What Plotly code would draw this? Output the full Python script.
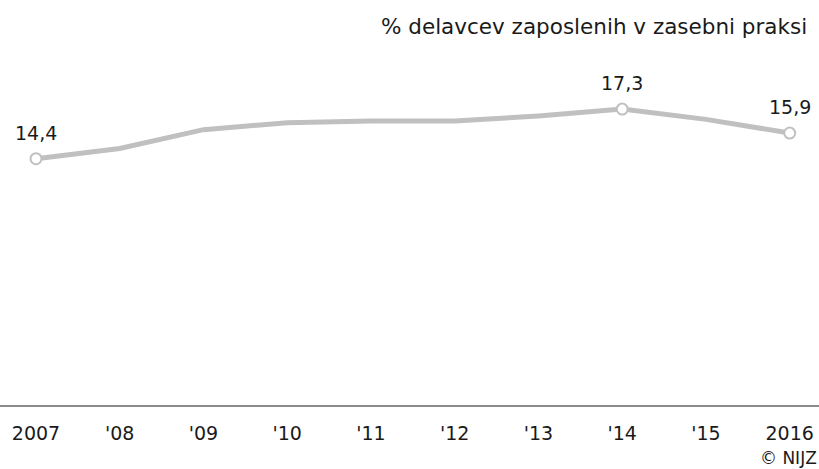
import plotly.graph_objects as go

years = [2007, 2008, 2009, 2010, 2011, 2012, 2013, 2014, 2015, 2016]
values = [14.4, 15.0, 16.1, 16.5, 16.6, 16.6, 16.9, 17.3, 16.7, 15.9]
tick_labels = ["2007", "'08", "'09", "'10", "'11", "'12", "'13", "'14", "'15", "2016"]
labeled_years = [2007, 2014, 2016]
title_text = "% delavcev zaposlenih v zasebni praksi"
credit_text = "© NIJZ"

FONT = "DejaVu Sans"
LINE_COLOR = "#c0c0c0"
TEXT_COLOR = "#1a1a1a"

lab_vals = [values[years.index(y)] for y in labeled_years]

fig = go.Figure()
fig.add_trace(go.Scatter(
    x=years, y=values, mode="lines",
    line=dict(color=LINE_COLOR, width=5),
    hoverinfo="skip", showlegend=False,
))
fig.add_trace(go.Scatter(
    x=labeled_years, y=lab_vals, mode="markers",
    marker=dict(size=11, color="white", line=dict(color=LINE_COLOR, width=2)),
    hoverinfo="skip", showlegend=False,
))

for x, v in zip(labeled_years, lab_vals):
    fig.add_annotation(
        x=x, y=v, xref="x", yref="y",
        text=f"{v:.1f}".replace(".", ","),
        showarrow=False, yanchor="bottom", yshift=13,
        font=dict(family=FONT, size=19, color=TEXT_COLOR),
    )

fig.add_annotation(
    x=809 / 819, y=0.934, xref="paper", yref="paper",
    text=title_text, showarrow=False, xanchor="right", yanchor="middle",
    font=dict(family=FONT, size=21.5, color=TEXT_COLOR),
)
fig.add_annotation(
    x=1.0, y=-0.131, xref="paper", yref="paper",
    text=credit_text, showarrow=False, xanchor="right", yanchor="middle",
    font=dict(family=FONT, size=17, color=TEXT_COLOR),
)

fig.update_layout(
    width=819, height=469,
    margin=dict(l=0, r=0, t=0, b=64),
    paper_bgcolor="white", plot_bgcolor="white",
    xaxis=dict(
        range=[2006.57, 2016.35],
        tickvals=years, ticktext=tick_labels,
        showgrid=False, zeroline=False,
        showline=True, linecolor="#8a8a8a", linewidth=2,
        ticks="outside", ticklen=10, tickcolor="rgba(0,0,0,0)",
        tickfont=dict(family=FONT, size=19, color=TEXT_COLOR),
    ),
    yaxis=dict(
        range=[0, 23.68], visible=False, showgrid=False, zeroline=False,
    ),
)

fig.write_html(
    "out.html",
    config={"displayModeBar": False},
    post_script="document.body.style.margin='0px';document.body.style.overflow='hidden';",
)
